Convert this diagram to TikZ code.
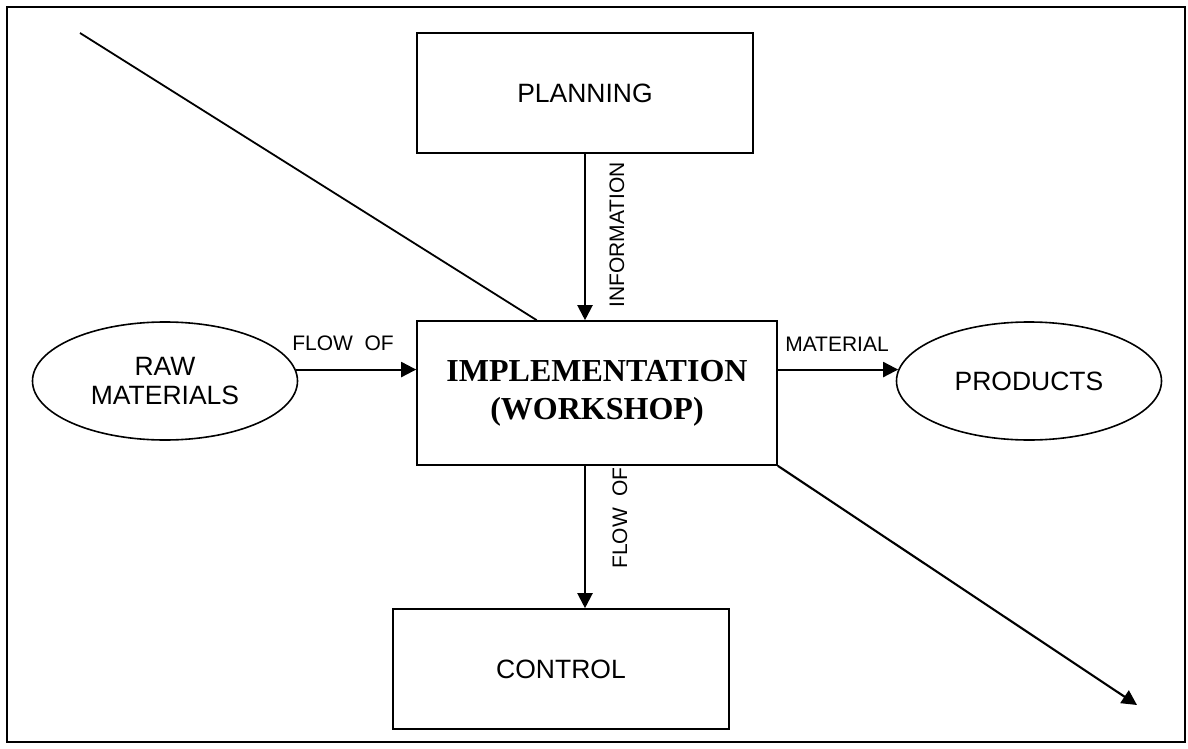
\documentclass[tikz,border=0pt]{standalone}
\usepackage{fontspec}
\setmainfont{Liberation Sans}
\newfontfamily\serifbold{Liberation Serif}
\usetikzlibrary{shapes.geometric,arrows.meta,calc}
\begin{document}
\begin{tikzpicture}[x=1pt,y=-1pt,
  boxnode/.style={draw,line width=1.6pt,inner sep=0pt,align=center,
    font=\fontsize{26.5}{29}\selectfont},
  ovalnode/.style={draw,ellipse,line width=1.6pt,inner sep=0pt,align=center,
    minimum width=265pt,minimum height=118pt,
    font=\fontsize{26.5}{29}\selectfont},
  flow/.style={line width=2.1pt,-{Triangle[length=15pt,width=15pt]}},
  tag/.style={inner sep=0pt,font=\fontsize{21}{24}\selectfont}]
  % page and frame
  \useasboundingbox (0,0) rectangle (1188,749);
  \draw[line width=2.6pt] (7,7) rectangle (1185,742);

  % blocks
  \node[boxnode,minimum width=336pt,minimum height=120pt] (plan) at (585,93) {PLANNING};
  \node[boxnode,minimum width=360pt,minimum height=144pt,
        font=\serifbold\bfseries\fontsize{32}{38}\selectfont] (impl) at (597,393)
        {IMPLEMENTATION\\(WORKSHOP)};
  \node[boxnode,minimum width=336pt,minimum height=120pt] (ctrl) at (561,669) {CONTROL};
  \node[ovalnode] (raw) at (165,381) {RAW\\MATERIALS};
  \node[ovalnode] (prod) at (1029,381) {PRODUCTS};

  % flows between blocks
  \draw[flow] (plan.south) -- (plan.south |- impl.north);
  \draw[flow] (plan.south |- impl.south) -- (plan.south |- ctrl.north);
  \draw[flow] (raw.5) -- (raw.5 -| impl.west);
  \draw[flow] (prod.175 -| impl.east) -- (prod.175);

  % diagonal strokes
  \coordinate (slashtop) at (80,33);
  \coordinate (slashend) at (1137,705);
  \draw[line width=1.8pt] (slashtop) -- ($(impl.north west)!0.3333!(impl.north east)$);
  \draw[flow] (impl.south east) -- (slashend);

  % labels on the flows
  \node[tag,rotate=90] (linfo) at (617,235) {INFORMATION};
  \node[tag,rotate=90] (lflowb) at (620,518) {FLOW\ \ OF};
  \node[tag] (lflowa) at (343,343) {FLOW\ \ OF};
  \node[tag] (lmat) at (837,344) {MATERIAL};
\end{tikzpicture}
\end{document}
